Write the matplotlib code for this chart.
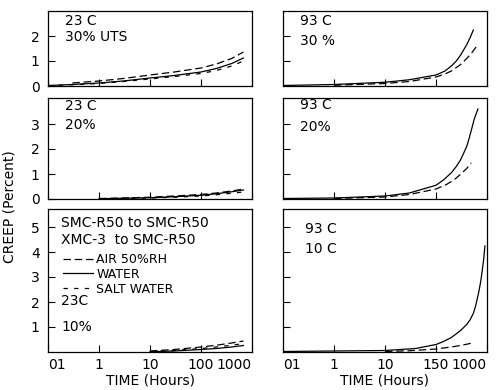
import matplotlib
matplotlib.use("Agg")
import matplotlib.pyplot as plt

plt.rcParams['font.family'] = ['DejaVu Sans']

# ---------------- data (creep %, vs time in hours) ----------------
# 23 C, 30% UTS
t_a30 = [0.3, 1, 3, 10, 30, 100, 200, 400, 680]
air_a30 = [0.12, 0.2, 0.3, 0.44, 0.56, 0.72, 0.88, 1.1, 1.36]
t_w30 = [0.1, 0.3, 1, 3, 10, 30, 100, 200, 400, 680]
water_a30 = [0.02, 0.06, 0.12, 0.2, 0.32, 0.42, 0.56, 0.7, 0.9, 1.12]
salt_a30 = [0.01, 0.05, 0.1, 0.18, 0.28, 0.38, 0.5, 0.62, 0.8, 1.0]

# 23 C, 20%
t_a20 = [1, 3, 10, 30, 100, 200, 400, 680]
air_a20 = [0.02, 0.04, 0.07, 0.12, 0.18, 0.24, 0.32, 0.4]
water_a20 = [0.01, 0.03, 0.05, 0.09, 0.15, 0.21, 0.29, 0.36]
salt_a20 = [0.0, 0.02, 0.04, 0.07, 0.12, 0.17, 0.23, 0.28]

# 23 C, 10%
t_a10 = [10, 30, 100, 200, 400, 680]
air_a10 = [0.04, 0.1, 0.2, 0.27, 0.36, 0.44]
water_a10 = [0.01, 0.04, 0.1, 0.14, 0.2, 0.26]
salt_a10 = [0.02, 0.06, 0.14, 0.2, 0.27, 0.34]

# 93 C, 30%
t_h30_w = [0.1, 1, 10, 30, 100, 150, 200, 250, 300, 350, 400, 470, 540]
water_h30 = [0.02, 0.06, 0.15, 0.25, 0.44, 0.6, 0.8, 1.0, 1.22, 1.45, 1.65, 1.95, 2.24]
t_h30_d = [1, 10, 30, 100, 150, 200, 300, 400, 500, 580, 660]
dash_h30 = [0.03, 0.1, 0.18, 0.36, 0.48, 0.6, 0.85, 1.1, 1.32, 1.5, 1.64]

# 93 C, 20%
t_h20_w = [0.1, 1, 10, 30, 100, 140, 200, 250, 300, 350, 400, 450, 500, 556, 610, 665]
water_h20 = [0.02, 0.04, 0.12, 0.24, 0.55, 0.76, 1.05, 1.3, 1.55, 1.84, 2.1, 2.45,
             2.8, 3.16, 3.4, 3.6]
t_h20_d = [1, 10, 30, 100, 160, 224, 300, 400, 490]
dash_h20 = [0.02, 0.08, 0.18, 0.4, 0.58, 0.76, 0.98, 1.22, 1.44]

# 93 C, 10%
t_h10_w = [0.1, 1, 10, 40, 100, 140, 200, 300, 400, 470, 540, 600, 690, 750, 800,
           860, 910]
water_h10 = [0.02, 0.04, 0.06, 0.14, 0.3, 0.42, 0.58, 0.85, 1.1, 1.3, 1.55, 1.85,
             2.4, 2.8, 3.2, 3.7, 4.24]
t_h10_d = [10, 30, 100, 200, 300, 420, 560]
dash_h10 = [0.02, 0.05, 0.12, 0.2, 0.26, 0.32, 0.38]

xticks = [0.1, 1, 10, 100, 1000]
xlabels_left = ["01", "1", "10", "100", "1000"]
xlabels_right = ["01", "1", "10", "150", "1000"]

# ---------------- styles ----------------
LW = 0.9
AIR = dict(color='black', lw=LW, linestyle=(0, (6, 3)))
WATER = dict(color='black', lw=LW, linestyle='-')
SALT = dict(color='black', lw=LW, linestyle=(0, (3.5, 5)))
FS = 10

fig = plt.figure(figsize=(5.02, 3.90), dpi=100)
W, H = 502, 390

def make_ax(x0, top, bottom, width=204):
    return fig.add_axes([x0 / W, 1 - bottom / H, width / W, (bottom - top) / H])

rows = [(11, 86, 3.0), (98, 199, 4.04), (209, 352, 5.72)]
axes = {}
for r, (top, bot, ymax) in enumerate(rows):
    for c, x0 in enumerate([48, 283]):
        ax = make_ax(x0, top, bot)
        ax.set_xscale('log')
        ax.set_xlim(0.1, 1000)
        ax.set_ylim(0, ymax)
        ax.set_xticks(xticks)
        ax.minorticks_off()
        ax.tick_params(direction='in', length=5, width=0.8, labelsize=FS,
                       top=False, right=False, pad=4)
        for s in ax.spines.values():
            s.set_linewidth(0.9)
        if r < 2:
            ax.set_xticklabels([])
        else:
            ax.set_xticklabels(xlabels_left if c == 0 else xlabels_right)
            lbls = ax.get_xticklabels()
            lbls[0].set_ha('left')
            lbls[-1].set_ha('right')
        axes[(r, c)] = ax

# y ticks
axes[(0, 0)].set_yticks([0, 1, 2])
axes[(1, 0)].set_yticks([0, 1, 2, 3])
axes[(2, 0)].set_yticks([1, 2, 3, 4, 5])
axes[(0, 1)].set_yticks([1, 2])
axes[(1, 1)].set_yticks([1, 2, 3])
axes[(2, 1)].set_yticks([1, 2, 3, 4, 5])
for r in range(3):
    axes[(r, 1)].set_yticklabels([])
    axes[(r, 0)].tick_params(axis='y', pad=6)

# ---------------- curves ----------------
ax = axes[(0, 0)]
ax.plot(t_a30, air_a30, **AIR)
ax.plot(t_w30, water_a30, **WATER)
ax.plot(t_w30, salt_a30, **SALT)

ax = axes[(1, 0)]
ax.plot(t_a20, air_a20, **AIR)
ax.plot(t_a20, water_a20, **WATER)
ax.plot(t_a20, salt_a20, **SALT)

ax = axes[(2, 0)]
l1, = ax.plot(t_a10, air_a10, label='AIR 50%RH', **AIR)
l2, = ax.plot(t_a10, water_a10, label='WATER', **WATER)
l3, = ax.plot(t_a10, salt_a10, label='SALT WATER', **SALT)

ax = axes[(0, 1)]
ax.plot(t_h30_w, water_h30, **WATER)
ax.plot(t_h30_d, dash_h30, **AIR)

ax = axes[(1, 1)]
ax.plot(t_h20_w, water_h20, **WATER)
ax.plot(t_h20_d, dash_h20, **AIR)

ax = axes[(2, 1)]
ax.plot(t_h10_w, water_h10, **WATER)
ax.plot(t_h10_d, dash_h10, **AIR)

# ---------------- annotations ----------------
def txt(ax, x, y, s):
    ax.text(x, y, s, transform=ax.transAxes, fontsize=FS, va='center', ha='left')

txt(axes[(0, 0)], 0.083, 0.87, "23 C")
txt(axes[(0, 0)], 0.083, 0.65, "30% UTS")
txt(axes[(1, 0)], 0.083, 0.92, "23 C")
txt(axes[(1, 0)], 0.083, 0.73, "20%")
txt(axes[(2, 0)], 0.065, 0.90, "SMC-R50 to SMC-R50")
txt(axes[(2, 0)], 0.065, 0.78, "XMC-3  to SMC-R50")
txt(axes[(2, 0)], 0.065, 0.36, "23C")
txt(axes[(2, 0)], 0.065, 0.175, "10%")
txt(axes[(0, 1)], 0.083, 0.87, "93 C")
txt(axes[(0, 1)], 0.083, 0.60, "30 %")
txt(axes[(1, 1)], 0.083, 0.93, "93 C")
txt(axes[(1, 1)], 0.083, 0.71, "20%")
txt(axes[(2, 1)], 0.11, 0.86, "93 C")
txt(axes[(2, 1)], 0.11, 0.72, "10 C")

leg = axes[(2, 0)].legend(handles=[l1, l2, l3], loc='upper left',
                          bbox_to_anchor=(0.06, 0.71), frameon=False,
                          fontsize=9, handlelength=2.4, handletextpad=0.3,
                          labelspacing=0.15, borderpad=0.2, borderaxespad=0)

fig.text(10 / W, 1 - 207 / H, "CREEP (Percent)", rotation=90, fontsize=FS,
         ha='center', va='center')
fig.text(150 / W, 1 - 380 / H, "TIME (Hours)", fontsize=FS, ha='center', va='center')
fig.text(385 / W, 1 - 380 / H, "TIME (Hours)", fontsize=FS, ha='center', va='center')

fig.savefig("out.png", dpi=100)
